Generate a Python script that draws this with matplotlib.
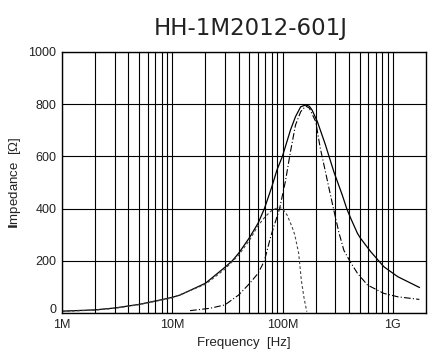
import matplotlib
matplotlib.use('Agg')
import matplotlib.pyplot as plt
import matplotlib.transforms as mtransforms
from matplotlib.ticker import FixedLocator, NullFormatter

plt.rcParams['font.family'] = ['Liberation Sans', 'DejaVu Sans']

# 임피던스 |Z|
z_freq = [1e6, 2e6, 3e6, 5e6, 7.8e6, 10e6, 11.8e6, 20e6, 30e6, 35e6, 40e6, 50e6,
          60e6, 68.5e6, 80e6, 89e6, 99.7e6, 118e6, 131e6, 146e6, 162e6, 175e6,
          185e6, 207e6, 245e6, 292e6, 348e6, 382e6, 415e6, 478e6, 510e6, 630e6,
          830e6, 1.11e9, 1.74e9]
z_val = [7, 12, 19, 33, 50, 60, 69, 114, 175, 200, 229, 288,
         344, 400, 484, 548, 600, 701, 752, 790, 797, 792,
         778, 733, 644, 541, 452, 400, 363, 305, 286, 235,
         177, 139, 98]

# 저항 R
r_freq = [14.5e6, 22e6, 30e6, 40e6, 50e6, 60e6, 68.5e6, 78e6, 94e6, 106e6, 118e6,
          131e6, 146e6, 162e6, 175e6, 200e6, 220e6, 245e6, 272e6, 303e6, 326e6,
          360e6, 406e6, 478e6, 590e6, 830e6, 1.11e9, 1.74e9]
r_val = [9, 18, 31, 69, 112, 152, 200, 292, 400, 503, 618,
         720, 771, 793, 785, 733, 631, 541, 452, 363, 305,
         240, 200, 152, 107, 75, 62, 52]

# 리액턴스 X
x_freq = [1e6, 2e6, 3e6, 5e6, 10e6, 20e6, 30e6, 40e6, 50e6, 60e6, 70e6, 80e6,
          92e6, 100e6, 110e6, 122e6, 129e6, 140e6, 148e6, 157e6, 166e6]
x_val = [6, 11, 18, 32, 58, 110, 168, 222, 278, 335, 370, 393,
         405, 400, 375, 330, 300, 229, 126, 55, 5]

fig = plt.figure(figsize=(4.38, 3.61), dpi=100)
ax = fig.add_axes([0.1416, 0.133, 0.831, 0.723])

ax.plot(z_freq, z_val, '-', color='black', lw=0.9)
ax.plot(r_freq, r_val, color='black', lw=0.8, linestyle=(0, (6, 2, 1, 2)))
ax.plot(x_freq, x_val, color='#444444', lw=0.8, linestyle=(0, (2.5, 2)))

ax.set_xscale('log')
ax.set_xlim(1e6, 2e9)
ax.set_ylim(0, 1000)

ax.xaxis.set_major_locator(FixedLocator([1e6, 1e7, 1e8, 1e9]))
ax.set_xticklabels(['1M', '10M', '100M', '1G'])
minor = [m * 10 ** k for k in range(6, 10) for m in range(2, 10) if m * 10 ** k < 2e9]
ax.xaxis.set_minor_locator(FixedLocator(minor))
ax.xaxis.set_minor_formatter(NullFormatter())
ax.set_yticks([0, 200, 400, 600, 800, 1000])

ax.grid(True, which='both', axis='x', color='black', lw=0.8)
ax.grid(True, which='major', axis='y', color='black', lw=0.8)
ax.tick_params(which='both', length=0, labelsize=9, colors='#222222')
ax.tick_params(axis='y', pad=4)
ax.tick_params(axis='x', pad=4)
for s in ax.spines.values():
    s.set_color('black')
    s.set_linewidth(1)

# "0" 라벨을 살짝 위로 (1M 라벨과 겹치지 않게)
lab0 = ax.get_yticklabels()[0]
lab0.set_transform(lab0.get_transform() + mtransforms.ScaledTranslation(0, 3 / 72, fig.dpi_scale_trans))

ax.set_xlabel('Frequency  [Hz]', fontsize=9.5, color='#222222', labelpad=5)
ax.set_ylabel(r'$\mathbf{I}$mpedance  [Ω]', fontsize=9.5, color='#222222', labelpad=4)
fig.text(0.573, 0.92, 'HH-1M2012-601J', ha='center', va='center', fontsize=16.5,
         color='#222222', family='DejaVu Sans')

fig.savefig('out.png', dpi=100)
